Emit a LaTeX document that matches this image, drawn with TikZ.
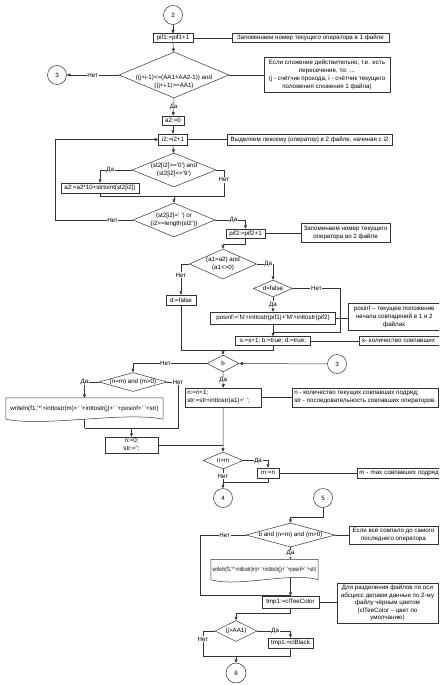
\documentclass[tikz,border=0pt]{standalone}
\usepackage{fontspec}
\setmainfont{Liberation Sans}
\usetikzlibrary{shapes.geometric,arrows.meta}
\begin{document}
\begin{tikzpicture}[x=1pt,y=-1pt, font=\fontsize{6.2}{8}\selectfont,
 ln/.style={draw=black!80,line width=0.5pt},
 arr/.style={ln,-{Triangle[length=3.5pt,width=3pt]}},
 box/.style={draw=black!80,line width=0.5pt,rectangle,inner sep=0pt,align=center,fill=white},
 note/.style={box},
 dia/.style={draw=black!80,line width=0.5pt,diamond,inner sep=0pt},
 txt/.style={inner sep=0pt,align=center},
 circ/.style={draw=black!80,line width=0.5pt,circle,minimum size=19pt,inner sep=0pt},
 lab/.style={fill=white,inner sep=0.6pt}]
\useasboundingbox (0,0) rectangle (439,685);
\clip (0,0) rectangle (439,685);
\fill[white] (0,0) rectangle (439,685);
% nodes
\node[circ] (c2) at (173,15) {2};
\node[box,minimum width=40pt,minimum height=8.5pt] (p1) at (173,38) {pif1:=pif1+1};
\node[note,minimum width=157pt,minimum height=9pt] (n1) at (310.5,38) {Запоминаем номер текущего оператора в 1 файле};
\node[dia,minimum width=110pt,minimum height=46pt] (d1) at (174,75) {};
\node[txt] (d1t) at (174,82) {((j+i-1)<=(AA1+AA2-1)) and\\((j+i-1)>=AA1)};
\node[circ] (c3a) at (57,75) {3};
\node[note,minimum width=126pt,minimum height=35pt] (n2) at (327,74.5) {Если сложение действительно, т.е. есть\\пересечение, то: ...\\(j - счётчик прохода, i - счётчик текущего\\положения сложения 1 файла)};
\node[box,minimum width=22pt,minimum height=9pt] (a2) at (173,120.5) {a2:=0};
\node[box,minimum width=29pt,minimum height=11pt] (i2) at (173,139.5) {i2:=i2+1};
\node[note,minimum width=165pt,minimum height=11pt] (n3) at (309.5,139.5) {Выделяем лексему (оператор) в 2 файле, начиная с i2};
\node[dia,minimum width=84pt,minimum height=34pt] (d2) at (174,170) {};
\node[txt] (d2t) at (d2) {(st2[i2]>='0') and\\(st2[i2]<='9')};
\node[box,minimum width=78pt,minimum height=10pt] (a3) at (100,188) {a2:=a2*10+strtoint(st2[i2])};
\node[dia,minimum width=82pt,minimum height=34pt] (d3) at (174,220) {};
\node[txt] (d3t) at (d3) {(st2[i2]=' ') or\\(i2>=length(st2'))};
\node[box,minimum width=39pt,minimum height=9pt] (p2) at (245.5,233.5) {pif2:=pif2+1};
\node[note,minimum width=89pt,minimum height=19pt] (n4) at (345.5,232.5) {Запоминаем номер текущего\\оператора во 2 файле};
\node[dia,minimum width=67pt,minimum height=30pt] (d4) at (223,264) {};
\node[txt] (d4t) at (d4) {(a1=a2) and\\(a1<>0)};
\node[dia,minimum width=39pt,minimum height=17pt] (d5) at (273,288.5) {};
\node[txt] (d5t) at (d5) {d=false};
\node[box,minimum width=30pt,minimum height=10pt] (d6) at (181,300) {d:=false};
\node[box,minimum width=125pt,minimum height=12pt] (pos) at (273,318) {posinf:='N'+inttostr(pif1)+'M'+inttostr(pif2)};
\node[note,anchor=west,minimum width=92pt,minimum height=27pt] (n5) at (348,316.5) {posinf – текущее положение\\начала совпадений в 1 и 2\\файлах};
\node[box,minimum width=75pt,minimum height=9pt] (s) at (273,341) {s:=s+1; b:=true; d:=true;};
\node[note,anchor=west,text width=95pt,align=left,inner xsep=2.5pt,minimum height=9pt] (n6) at (359,341) {s- количество совпавших};
\node[dia,minimum width=32pt,minimum height=17pt] (b) at (223,363.5) {};
\node[txt] (bt) at (b) {b};
\node[circ] (c3b) at (337,364) {3};
\node[dia,minimum width=68pt,minimum height=19pt] (d7) at (133,382) {};
\node[txt] (d7t) at (d7) {(n=m) and (m>0)};
\node[box,anchor=west,text width=72pt,align=left,inner xsep=2pt,minimum height=19pt] (nn) at (185,397.5) {n:=n+1;\\str:=str+inttostr(a1)+' ';};
\node[note,anchor=west,align=left,minimum width=146pt,minimum height=19pt] (n7) at (292,397.5) {n - количество текущих совпавших подряд;\\str - последовательность совпавших операторов.};
\node[txt,minimum width=157pt,minimum height=21pt] (w1) at (84.5,408.5) {writeln(f1,'*'+inttostr(m)+' '+inttostr(j)+' '+posinf+' '+str)};
\draw[ln] (w1.south east) -- (w1.north east) -- (w1.north west) -- (w1.south west) .. controls +(39,8) and +(-39,-8) .. (w1.south east);
\node[box,minimum width=53pt,minimum height=16pt] (n0) at (131.5,445) {n:=0;\\str:='';};
\node[dia,minimum width=40pt,minimum height=17pt] (d8) at (223,460.5) {};
\node[txt] (d8t) at (d8) {n>m};
\node[box,minimum width=22pt,minimum height=10pt] (mm) at (268,473) {m:=n};
\node[note,anchor=west,text width=95pt,align=left,inner xsep=2pt,minimum height=10pt] (n8) at (357,473) {m - max совпавших подряд};
\node[circ] (c4) at (223,498) {4};
\node[circ] (c5) at (323,498) {5};
\node[dia,minimum width=89pt,minimum height=24pt] (d9) at (290.5,535) {};
\node[txt] (d9t) at (d9) {b and (n=m) and (m>0)};
\node[note,minimum width=89pt,minimum height=18pt] (n9) at (393.5,535) {Если всё совпало до самого\\последнего оператора};
\node[txt,minimum width=107pt,minimum height=20pt] (w2) at (264.5,569.5) {\scalebox{0.7}[1]{writeln(f1,'*'+inttostr(m)+' '+inttostr(j)+' '+posinf+' '+str)}};
\draw[ln] (w2.south east) -- (w2.north east) -- (w2.north west) -- (w2.south west) .. controls +(27,8) and +(-27,-8) .. (w2.south east);
\node[box,minimum width=57pt,minimum height=12pt] (t1) at (290.5,602) {tmp1:=clTeeColor};
\node[note,minimum width=101pt,minimum height=40pt,font=\fontsize{6.2}{7.4}\selectfont] (n10) at (387.5,603) {Для разделения файлов по оси\\абсцисс делаем данные по 2-му\\файлу чёрным цветом\\(clTeeColor – цвет по\\умолчанию)};
\node[dia,minimum width=42pt,minimum height=21pt] (d10) at (236,631) {};
\node[txt] (d10t) at (d10) {(j>AA1)};
\node[box,minimum width=45pt,minimum height=10pt] (t2) at (290.5,643) {tmp1:=clBlack};
\node[circ,minimum size=20pt] (c6) at (236,673) {6};
% coordinates
\coordinate (j1) at (224,196);
\coordinate (j2) at (100,196);
\coordinate (j3) at (55,220);
\coordinate (j4) at (245.5,244);
\coordinate (j5) at (340,288.5);
\coordinate (j6) at (273,332);
\coordinate (j7) at (181,350);
\coordinate (j9) at (178,382);
\coordinate (j10) at (178,428);
\coordinate (j11) at (84.5,428);
\coordinate (j12) at (223,445);
\coordinate (j13) at (223,482);
\coordinate (j14) at (323,517);
\coordinate (j15) at (200,535);
\coordinate (j16) at (200,595);
\coordinate (j17) at (290.5,595);
\coordinate (j18) at (290.5,578);
\coordinate (j19) at (236,613);
\coordinate (j20) at (203,656);
\coordinate (j21) at (290.5,656);
% connectors
\draw[arr] (c2) -- (p1);
\draw[arr] (p1) -- (d1);
\draw[ln] (p1) -- (n1);
\draw[arr] (d1.west) -- node[lab]{Нет} (c3a.east);
\draw[ln] (d1.east) -- (d1.east -| n2.west);
\draw[arr] (d1.south) -- node[lab]{Да} (a2);
\draw[arr] (a2) -- (i2);
\draw[ln] (i2) -- (n3);
\draw[arr] (i2) -- (d2);
\draw[arr] (d2.west) -| node[lab,pos=0.34]{Да} (a3.north);
\draw[ln] (d2.east) -| node[lab,pos=0.69]{Нет} (j1) -- (j2);
\draw[ln] (a3.south) -- (j2);
\draw[arr] (d2.south |- j1) -- (d3.north);
\draw[arr] (d3.west) -- node[lab,pos=0.26]{Нет} (j3) |- (i2.west);
\draw[arr] (d3.east) -| node[lab,pos=0.3]{Да} (p2.north);
\draw[ln] (p2.east) -- (p2.east -| n4.west);
\draw[arr] (p2.south) -- (j4) -| (d4.north);
\draw[arr] (d4.east) -| node[lab,pos=0.35]{Да} (d5.north);
\draw[arr] (d4.west) -| node[lab,pos=0.68]{Нет} (d6.north);
\draw[arr] (d5.south) -- node[lab]{Да} (pos.north);
\draw[ln] (d5.east) -- node[lab]{Нет} (j5) |- (j6);
\draw[ln] (pos.east) -- (pos.east -| n5.west);
\draw[arr] (pos) -- (s);
\draw[ln] (s) -- (n6);
\draw[ln] (s.south) |- (j7);
\draw[ln] (d6.south) -- (j7);
\draw[arr] (b.north |- j7) -- (b.north);
\draw[arr] (c3b) -- (b.east);
\draw[arr] (b.west) -| node[lab,pos=0.28]{Нет} (d7.north);
\draw[arr] (d7.west) -| node[lab,pos=0.5]{Да} (w1.north);
\draw[ln] (d7.east) -- (j9) node[lab]{Нет} -- (j10) -- (j11);
\draw[ln] (w1.south) -- (j11);
\draw[arr] (n0.north |- j10) -- (n0.north);
\draw[arr] (b.south) -- node[lab]{Да} (nn.north);
\draw[ln] (nn) -- (n7);
\draw[ln] (n0.east) -- (j12);
\draw[arr] (nn.south) -- (d8.north);
\draw[arr] (d8.east) -| node[lab,pos=0.3]{Да} (mm.north);
\draw[ln] (mm) -- (n8);
\draw[arr] (d8.south) -- node[lab,pos=0.36]{Нет} (c4.north);
\draw[ln] (mm.south) |- (j13);
\draw[arr] (c5.south) -- (j14) -| (d9.north);
\draw[ln] (d9) -- (n9);
\draw[arr] (d9.south) -- node[lab]{Да} (d9.south |- w2.north);
\draw[ln] (d9.west) -- node[lab,pos=0.46]{Нет} (j15) -- (j16) -- (j17);
\draw[arr] (j18) -- (t1.north);
\draw[ln] (t1.east) -- (t1.east -| n10.west);
\draw[arr] (t1.south) |- (j19) -- (d10.north);
\draw[arr] (d10.east) -| node[lab,pos=0.27]{Да} (t2.north);
\draw[ln] (d10.west) -| node[lab,pos=0.66]{Нет} (j20) -- (j21);
\draw[ln] (t2.south) -- (j21);
\draw[arr] (c6.north |- j21) -- (c6.north);
\end{tikzpicture}
\end{document}
